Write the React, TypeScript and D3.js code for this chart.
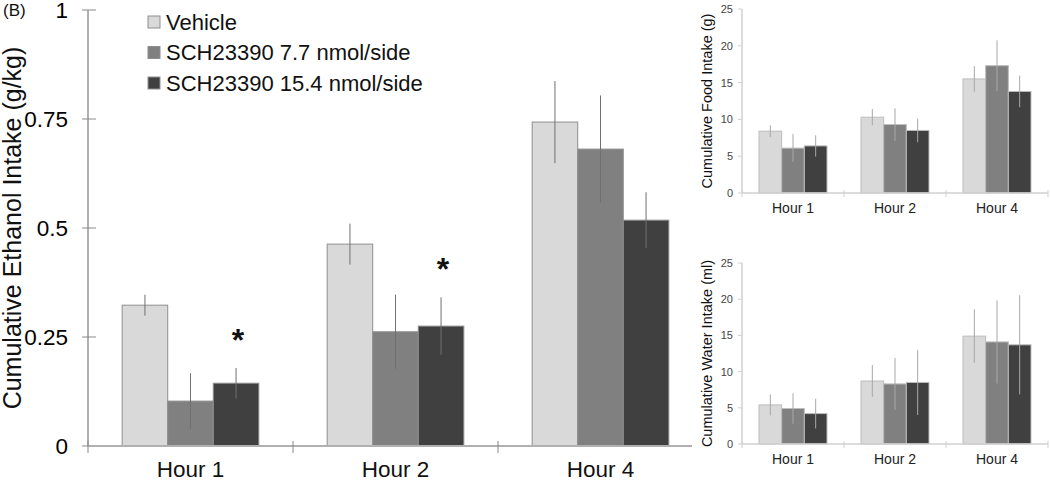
import React from 'react';
import * as d3 from 'd3';

const FONT = '"Liberation Sans", Arial, Helvetica, sans-serif';

// categories and series
const hours = ['Hour 1', 'Hour 2', 'Hour 4'];
const groups = ['Vehicle', 'SCH23390 7.7 nmol/side', 'SCH23390 15.4 nmol/side'];
const fills = ['#d9d9d9', '#808080', '#404040'];

// ethanol (g/kg), one row per group, one value per hour
const ethanolMean = [
  [0.323, 0.463, 0.743],
  [0.103, 0.262, 0.681],
  [0.144, 0.275, 0.518],
];
const ethanolErr = [
  [0.024, 0.047, 0.094],
  [0.064, 0.085, 0.123],
  [0.035, 0.066, 0.064],
];
const ethanolStar = [
  [false, false, false],
  [false, false, false],
  [true, true, false],
];

// food (g)
const foodMean = [
  [8.4, 10.3, 15.5],
  [6.1, 9.3, 17.3],
  [6.4, 8.5, 13.8],
];
const foodErr = [
  [0.8, 1.1, 1.75],
  [1.9, 2.2, 3.45],
  [1.45, 1.6, 2.15],
];

// water (ml)
const waterMean = [
  [5.4, 8.7, 14.9],
  [4.9, 8.3, 14.1],
  [4.2, 8.5, 13.7],
];
const waterErr = [
  [1.45, 2.2, 3.7],
  [2.1, 3.6, 5.75],
  [2.05, 4.5, 6.85],
];

const mainTicks = [0, 0.25, 0.5, 0.75, 1];
const smallTicks = [0, 5, 10, 15, 20, 25];

type PanelProps = {
  means: number[][];
  errs: number[][];
  stars?: boolean[][];
  xRange: [number, number];
  axisEnd: number;
  yDomain: [number, number];
  yRange: [number, number];
  ticks: number[];
  title: string;
  titleX: number;
  titleSize: number;
  tickSize: number;
  tickColor: string;
  labelSize: number;
  labelY: number;
  axisColor: string;
  axisWidth: number;
  yTickL: number;
  yTickR: number;
  xTickUp: number;
  xTickDown: number;
  errColor: string;
  barStroke: string;
  labelX: number;
};

const Panel = (p: PanelProps) => {
  const x = d3.scaleBand<string>().domain(hours).range(p.xRange);
  const inner = d3.scaleBand<string>().domain(groups).range([0, x.bandwidth()]).paddingOuter(0.75);
  const y = d3.scaleLinear().domain(p.yDomain).range(p.yRange);
  const y0 = y(0);
  const top = p.yRange[1];
  const ax = p.xRange[0];
  const bounds = [...hours.map(h => x(h) as number), p.xRange[1]].filter(v => v <= p.axisEnd);
  const dark = p.tickColor === '#000';

  return (
    <g>
      {/* bars */}
      {groups.map((g, gi) =>
        hours.map((h, hi) => {
          const bx = (x(h) as number) + (inner(g) as number);
          const v = p.means[gi][hi];
          return (
            <rect key={g + h} x={bx} y={y(v)} width={inner.bandwidth()} height={y0 - y(v)}
              fill={fills[gi]} stroke={p.barStroke} strokeWidth={1} />
          );
        })
      )}
      {/* error bars */}
      {groups.map((g, gi) =>
        hours.map((h, hi) => {
          const cx = (x(h) as number) + (inner(g) as number) + inner.bandwidth() / 2;
          const v = p.means[gi][hi];
          const e = p.errs[gi][hi];
          return (
            <line key={'e' + g + h} x1={cx} x2={cx} y1={y(v + e)} y2={y(v - e)}
              stroke={p.errColor} strokeWidth={1} />
          );
        })
      )}
      {/* significance */}
      {p.stars && groups.map((g, gi) =>
        hours.map((h, hi) => {
          if (!p.stars![gi][hi]) return null;
          const cx = (x(h) as number) + (inner(g) as number) + inner.bandwidth() / 2;
          const v = p.means[gi][hi] + p.errs[gi][hi];
          return (
            <text key={'s' + g + h} x={cx + 2} y={y(v) - 17} textAnchor="middle"
              fontSize={32} fontWeight="bold" fill="#111">*</text>
          );
        })
      )}
      {/* y axis */}
      <line x1={ax} x2={ax} y1={top} y2={y0} stroke={p.axisColor} strokeWidth={p.axisWidth} />
      {p.ticks.map(t => (
        <g key={'t' + t}>
          <line x1={ax - p.yTickL} x2={ax + p.yTickR} y1={y(t)} y2={y(t)} stroke={dark ? '#888' : p.axisColor} strokeWidth={1} />
          <text x={p.labelX} y={y(t)} dy="0.36em" textAnchor="end" fontSize={p.tickSize} fill={p.tickColor}>{String(t)}</text>
        </g>
      ))}
      {/* x axis */}
      <line x1={ax} x2={p.axisEnd} y1={y0} y2={y0} stroke={p.axisColor} strokeWidth={p.axisWidth} />
      {bounds.map((b, i) => (
        <line key={'b' + i} x1={b} x2={b} y1={y0 - p.xTickUp} y2={y0 + p.xTickDown}
          stroke={dark ? '#888' : p.axisColor} strokeWidth={1} />
      ))}
      {hours.map(h => (
        <text key={'l' + h} x={(x(h) as number) + x.bandwidth() / 2} y={p.labelY} textAnchor="middle"
          fontSize={p.labelSize} fill={dark ? '#111' : '#222'}>{h}</text>
      ))}
      {/* y title */}
      <text transform={`translate(${p.titleX},${(top + y0) / 2}) rotate(-90)`} textAnchor="middle"
        fontSize={p.titleSize} fill="#111">{p.title}</text>
    </g>
  );
};

const App = () => {
  return (
    <div style={{ position: 'absolute', left: 0, top: 0 }}>
      <svg width={1050} height={483} style={{ display: 'block', background: '#fff', fontFamily: FONT }}>
        <text x={3} y={16} fontSize={17} fill="#111">(B)</text>
        <Panel means={ethanolMean} errs={ethanolErr} stars={ethanolStar}
          xRange={[88, 703]} axisEnd={692} yDomain={[0, 1]} yRange={[446, 10]} ticks={mainTicks}
          title="Cumulative Ethanol Intake (g/kg)" titleX={21} titleSize={25}
          tickSize={22.5} tickColor="#000" labelSize={22.5} labelY={477} labelX={68}
          axisColor="#b0b0b0" axisWidth={2} yTickL={6} yTickR={8} xTickUp={5} xTickDown={7}
          errColor="#707070" barStroke="#8f8f8f" />
        {/* legend */}
        {groups.map((g, i) => (
          <g key={g} transform={`translate(148,${22 + i * 30.5})`}>
            <rect x={0} y={-6} width={12} height={12} fill={fills[i]} stroke="#8f8f8f" strokeWidth={1} />
            <text x={18} y={0} dy="0.36em" fontSize={22} fill="#111">{g}</text>
          </g>
        ))}
        <Panel means={foodMean} errs={foodErr}
          xRange={[742, 1048]} axisEnd={1048} yDomain={[0, 25]} yRange={[193, 9]} ticks={smallTicks}
          title="Cumulative Food Intake (g)" titleX={712} titleSize={14.5}
          tickSize={11} tickColor="#444" labelSize={14} labelY={213} labelX={733}
          axisColor="#d0d0d0" axisWidth={1.5} yTickL={4} yTickR={0} xTickUp={3} xTickDown={4}
          errColor="#a8a8a8" barStroke="#bdbdbd" />
        <Panel means={waterMean} errs={waterErr}
          xRange={[742, 1048]} axisEnd={1048} yDomain={[0, 25]} yRange={[444, 263]} ticks={smallTicks}
          title="Cumulative Water Intake (ml)" titleX={712} titleSize={14.5}
          tickSize={11} tickColor="#444" labelSize={14} labelY={464} labelX={733}
          axisColor="#d0d0d0" axisWidth={1.5} yTickL={4} yTickR={0} xTickUp={3} xTickDown={4}
          errColor="#a8a8a8" barStroke="#bdbdbd" />
      </svg>
    </div>
  );
};

export default App;
